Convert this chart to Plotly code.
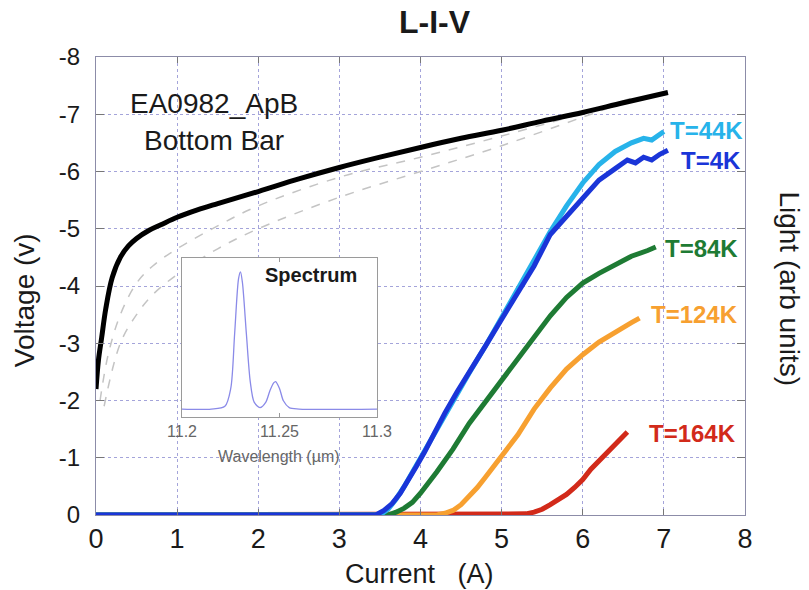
import plotly.graph_objects as go

# ---------------- data ----------------
# Voltage vs current (black)
iv_current = [0, 0.03, 0.07, 0.12, 0.2, 0.3, 0.4, 0.5, 0.65, 0.8, 1.0, 1.25, 1.5, 2.0, 2.5,
              3.0, 3.5, 4.0, 4.5, 5.0, 5.5, 6.0, 6.5, 7.05]
iv_voltage = [-2.2, -2.7, -3.1, -3.6, -4.15, -4.5, -4.7, -4.83, -4.97, -5.07, -5.2, -5.33, -5.44,
              -5.65, -5.87, -6.07, -6.25, -6.42, -6.58, -6.72, -6.88, -7.03, -7.2, -7.38]

# faint dashed V-I curves (other temperatures)
dashA_current = [0.05, 0.15, 0.3, 0.5, 0.7, 1.0, 1.5, 2.0, 3.0, 4.0, 5.0, 6.0, 6.6]
dashA_voltage = [-2.0, -2.8, -3.5, -4.05, -4.35, -4.65, -5.05, -5.4, -5.9, -6.25, -6.62, -7.02, -7.28]
dashB_current = [0.1, 0.3, 0.5, 0.7, 1.0, 1.5, 2.0, 3.0, 4.0, 5.0, 6.0, 6.6]
dashB_voltage = [-1.9, -3.0, -3.5, -3.85, -4.2, -4.65, -5.0, -5.55, -6.0, -6.45, -6.95, -7.25]

# Light-current curves
l4_current = [0, 3.45, 3.55, 3.65, 3.75, 3.85, 3.95, 4.05, 4.15, 4.3, 4.45, 4.6, 4.8, 5.0, 5.2,
              5.4, 5.6, 5.8, 6.0, 6.2, 6.4, 6.55, 6.65, 6.75, 6.85, 6.95, 7.05]
l4_light = [0, 0.0, 0.08, 0.2, 0.38, 0.6, 0.85, 1.1, 1.38, 1.78, 2.15, 2.48, 2.95, 3.42, 3.9,
            4.35, 4.9, 5.22, 5.55, 5.85, 6.05, 6.2, 6.15, 6.25, 6.2, 6.3, 6.37]

l44_current = [0, 3.5, 3.6, 3.7, 3.8, 3.9, 4.0, 4.2, 4.4, 4.6, 4.8, 5.0, 5.2, 5.4, 5.6, 5.8,
               6.0, 6.2, 6.4, 6.6, 6.75, 6.85, 6.95, 7.0]
l44_light = [0, 0.0, 0.1, 0.28, 0.5, 0.75, 1.0, 1.5, 2.0, 2.48, 2.95, 3.45, 3.95, 4.45, 4.95,
             5.4, 5.8, 6.12, 6.35, 6.5, 6.58, 6.55, 6.65, 6.7]

l84_current = [0, 3.6, 3.7, 3.8, 3.9, 4.0, 4.2, 4.3, 4.4, 4.6, 4.8, 5.0, 5.2, 5.4, 5.6, 5.8,
               6.0, 6.2, 6.4, 6.6, 6.8, 6.9]
l84_light = [0, 0.0, 0.05, 0.12, 0.22, 0.38, 0.75, 0.95, 1.15, 1.6, 1.98, 2.35, 2.72, 3.12,
             3.48, 3.8, 4.05, 4.22, 4.38, 4.52, 4.62, 4.68]

l124_current = [0, 4.2, 4.3, 4.4, 4.5, 4.6, 4.7, 4.8, 4.9, 5.0, 5.2, 5.4, 5.6, 5.8, 6.0, 6.2,
                6.4, 6.6, 6.7]
l124_light = [0, 0.0, 0.03, 0.08, 0.18, 0.32, 0.48, 0.66, 0.84, 1.02, 1.4, 1.85, 2.22, 2.55,
              2.8, 3.02, 3.2, 3.36, 3.44]

l164_current = [0, 5.2, 5.3, 5.4, 5.5, 5.6, 5.7, 5.8, 5.9, 6.0, 6.1, 6.2, 6.3, 6.4, 6.5, 6.55]
l164_light = [0, 0.0, 0.02, 0.05, 0.1, 0.18, 0.27, 0.36, 0.48, 0.62, 0.8, 0.95, 1.1, 1.25,
              1.38, 1.45]

series_labels = ["T=44K", "T=4K", "T=84K", "T=124K", "T=164K"]
series_colors = ["#27b3ea", "#1a35d8", "#1e7b34", "#f7a030", "#d22a1a"]
label_x = [7.07, 7.21, 7.01, 6.84, 6.82]
label_y = [6.72, 6.2, 4.66, 3.5, 1.43]

# inset spectrum
spec_wl = [11.20, 11.215, 11.222, 11.225, 11.227, 11.229, 11.230, 11.231, 11.233, 11.235,
           11.237, 11.240, 11.243, 11.245, 11.247, 11.248, 11.250, 11.252, 11.255, 11.26, 11.30]
spec_int = [0.0, 0.0, 0.02, 0.15, 0.55, 0.95, 1.0, 0.92, 0.55, 0.2, 0.05, 0.01, 0.05, 0.13,
            0.19, 0.2, 0.15, 0.06, 0.01, 0.0, 0.0]

x_ticks = [0, 1, 2, 3, 4, 5, 6, 7, 8]
x_ticklabels = ["0", "1", "2", "3", "4", "5", "6", "7", "8"]
y_ticks = [0, -1, -2, -3, -4, -5, -6, -7, -8]
y_ticklabels = ["0", "-1", "-2", "-3", "-4", "-5", "-6", "-7", "-8"]
inset_ticks = [11.2, 11.25, 11.3]
inset_ticklabels = ["11.2", "11.25", "11.3"]

# ---------------- figure ----------------
FONT = "Liberation Sans, Arial, Helvetica, sans-serif"
fig = go.Figure()

for xs, ys in [(dashA_current, dashA_voltage), (dashB_current, dashB_voltage)]:
    fig.add_trace(go.Scatter(x=xs, y=ys, mode="lines", xaxis="x", yaxis="y",
                             line=dict(color="#c4c4c4", width=1.5, dash="dash", shape="spline"),
                             showlegend=False, hoverinfo="skip"))

fig.add_trace(go.Scatter(x=iv_current, y=iv_voltage, mode="lines", xaxis="x", yaxis="y",
                         line=dict(color="black", width=5, shape="spline"), showlegend=False))

# light curves: draw red first, blue last so the baseline looks like the reference
light_sets = [
    (l164_current, l164_light, series_colors[4]),
    (l124_current, l124_light, series_colors[3]),
    (l84_current, l84_light, series_colors[2]),
    (l44_current, l44_light, series_colors[0]),
    (l4_current, l4_light, series_colors[1]),
]
for xs, ys, c in light_sets:
    fig.add_trace(go.Scatter(x=xs, y=ys, mode="lines", xaxis="x", yaxis="y2",
                             line=dict(color=c, width=5), showlegend=False))

fig.add_trace(go.Scatter(x=spec_wl, y=spec_int, mode="lines", xaxis="x2", yaxis="y3",
                         line=dict(color="#8a8ae8", width=1.3, shape="spline", smoothing=0.8),
                         showlegend=False))

frame = "#8c8ca8"
grid = "#a4a4da"

fig.update_layout(
    width=809, height=590,
    margin=dict(l=96, r=64, t=57, b=75),
    paper_bgcolor="white", plot_bgcolor="white",
    font=dict(family=FONT, color="#1a1a1a"),
    xaxis=dict(domain=[0, 1], range=[0, 8], tickvals=x_ticks, ticktext=x_ticklabels,
               ticks="inside", ticklen=6,
               tickcolor="#777", showline=True, linecolor=frame, linewidth=1, mirror="ticks",
               showgrid=True, gridcolor=grid, griddash="dot", gridwidth=1, zeroline=False,
               tickfont=dict(size=27, color="#1a1a1a"), ticklabelstandoff=0),
    yaxis=dict(domain=[0, 1], range=[0, -8], tickvals=y_ticks, ticktext=y_ticklabels,
               ticks="inside", ticklen=8,
               tickcolor="#777", showline=True, linecolor=frame, linewidth=1, mirror="ticks",
               showgrid=True, gridcolor=grid, griddash="dot", gridwidth=1, zeroline=False,
               tickfont=dict(size=24, color="#1a1a1a"), ticklabelstandoff=10),
    yaxis2=dict(overlaying="y", side="right", range=[0, 8], showgrid=False,
                showticklabels=False, ticks="", showline=False, zeroline=False),
    xaxis2=dict(domain=[0.1325, 0.433], anchor="y3", range=[11.2, 11.3],
                tickvals=inset_ticks, ticktext=inset_ticklabels, ticks="inside", ticklen=4,
                tickcolor="#999", showline=True, linecolor="#9a9a9a", mirror="ticks",
                showgrid=False, zeroline=False,
                tickfont=dict(size=16, color="#666"), ticklabelstandoff=0),
    yaxis3=dict(domain=[0.214, 0.561], anchor="x2", range=[-0.058, 1.10],
                showticklabels=False, ticks="", showline=True, linecolor="#9a9a9a",
                mirror=True, showgrid=False, zeroline=False),
)

annotations = [
    dict(text="<b>L-I-V</b>", x=0.522, y=1.076, xref="paper", yref="paper",
         showarrow=False, font=dict(size=32, color="#1a1a1a"), xanchor="center", yanchor="middle"),
    dict(text="Voltage (v)", x=-0.111, y=0.469, xref="paper", yref="paper", textangle=-90,
         showarrow=False, font=dict(size=28, color="#1a1a1a"), xanchor="center", yanchor="middle"),
    dict(text="Light (arb units)", x=1.069, y=0.493, xref="paper", yref="paper", textangle=90,
         showarrow=False, font=dict(size=28, color="#1a1a1a"), xanchor="center", yanchor="middle"),
    dict(text="Current&nbsp;&nbsp;&nbsp;(A)", x=0.498, y=-0.128, xref="paper", yref="paper",
         showarrow=False, font=dict(size=27, color="#1a1a1a"), xanchor="center", yanchor="middle"),
    dict(text="EA0982_ApB", x=1.46, y=-7.19, xref="x", yref="y", showarrow=False,
         font=dict(size=28, color="#1a1a1a"), xanchor="center", yanchor="middle"),
    dict(text="Bottom Bar", x=1.46, y=-6.54, xref="x", yref="y", showarrow=False,
         font=dict(size=28, color="#1a1a1a"), xanchor="center", yanchor="middle"),
    dict(text="<b>Spectrum</b>", x=11.266, y=0.98, xref="x2", yref="y3", showarrow=False,
         font=dict(size=20, color="#1a1a1a"), xanchor="center", yanchor="middle"),
    dict(text="Wavelength (µm)", x=0.282, y=0.127, xref="paper", yref="paper",
         showarrow=False, font=dict(size=16, color="#666"), xanchor="center", yanchor="middle"),
]
for lab, c, lx, ly in zip(series_labels, series_colors, label_x, label_y):
    annotations.append(dict(text="<b>" + lab + "</b>", x=lx, y=ly, xref="x", yref="y2",
                            showarrow=False, font=dict(size=24, color=c),
                            xanchor="left", yanchor="middle", xshift=-2))
fig.update_layout(annotations=annotations)

fig.write_html("out.html")
